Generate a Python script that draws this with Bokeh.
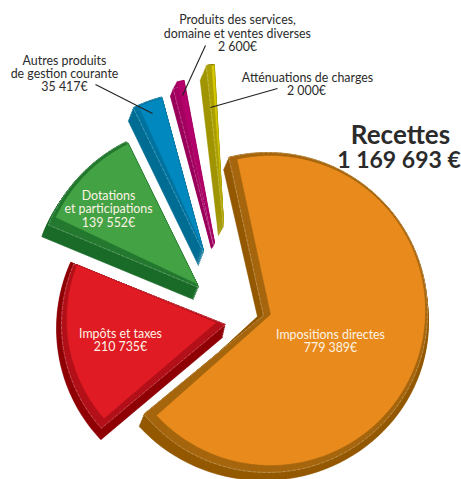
import numpy as np
from bokeh.plotting import figure
from bokeh.models import Range1d
from bokeh.core.properties import value
from bokeh.embed import file_html
from bokeh.resources import INLINE

# ---- data
categories = ["Impositions directes", "Impôts et taxes", "Dotations et participations",
              "Autres produits de gestion courante",
              "Produits des services, domaine et ventes diverses", "Atténuations de charges"]
amounts = [779389, 210735, 139552, 35417, 2600, 2000]
amount_labels = ["779 389€", "210 735€", "139 552€", "35 417€", "2 600€", "2 000€"]
title_lines = ["Recettes", "1 169 693 €"]

# ---- styles
top_col = ["#e98b1c", "#e01b24", "#43a244", "#0088bf", "#b3006a", "#d6c900"]
mid_col = ["#a6660e", "#b3111a", "#24792f", "#00739f", "#a50061", "#ab9f00"]
low_col = ["#945900", "#8f0005", "#1a6b28", "#006d94", "#98005a", "#a09500"]
FONT = "Lato"
START_ANGLE = 102.5

# ---- layout of the exploded pseudo-3D slices: apex x, y, rim centre x, y, rx, ry, pad hi, pad lo
layers = [
    [(270, 314, 270, 310, 155, 155, 0, 0), (263, 315, 267, 312, 160, 160, 1.5, -3.2), (257, 316, 263, 322, 165, 158, 1.5, -1.6)],
    [(216, 322, 216, 319, 150, 150, -1.2, 0.8), (225, 324, 216, 324, 155, 155, -0.6, -0.7), (222, 337, 214, 328, 158, 160, 1.4, -2.2)],
    [(197, 284, 197, 284, 157, 157, -3, 1.3), (198, 287, 196, 285, 160, 160, 0, 1.3), (193, 299, 193, 293, 162, 162, 1.7, 1)],
    [(203, 250, 203, 250, 158, 158, -0.6, 1.3), (203, 252, 203, 252, 161, 161, 1.1, 1.2), (198, 265, 198, 265, 161, 161, 1.1, 1.2)],
    [(214, 242, 214, 242, 165, 165, -0.8, -2.5), (213, 245, 213, 245, 162, 162, 0.5, -1), (211, 248, 211, 248, 158, 158, 1.2, 0)],
    [(223, 223, 223, 223, 159, 159, -8.7, -9.2), (223, 226, 223, 226, 162, 162, -7, -8.9), (218, 235, 218, 235, 157, 157, -6.4, -8.4)],
]

shares = np.array(amounts) / sum(amounts) * 360.0
hi_angles = START_ANGLE - np.concatenate([[0], np.cumsum(shares)[:-1]])
lo_angles = hi_angles - shares


def ring(spec, hi, lo):
    ax, ay, cx, cy, rx, ry, phi, plo = spec
    t = np.radians(np.linspace(hi + phi, lo + plo, 90))
    return np.r_[ax, cx + rx * np.cos(t)], np.r_[ay, cy - ry * np.sin(t)]


p = figure(width=461, height=479, output_backend="svg", toolbar_location=None,
           x_range=Range1d(0, 461), y_range=Range1d(479, 0),
           min_border=0, outline_line_color=None, background_fill_color="white")
p.axis.visible = False
p.grid.visible = False

for i in range(len(amounts) - 1, -1, -1):
    rings = [ring(s, hi_angles[i], lo_angles[i]) for s in layers[i]]
    top, mid, low = rings
    for (a, b, col) in ((mid, low, low_col[i]), (top, mid, mid_col[i])):
        xs, ys = [], []
        for f in np.linspace(1, 0, 9):
            xs.append((a[0] * (1 - f) + b[0] * f).tolist())
            ys.append((a[1] * (1 - f) + b[1] * f).tolist())
        p.patches(xs, ys, fill_color=col, line_color=col, line_width=0.6)
    p.line(np.r_[mid[0], mid[0][0]], np.r_[mid[1], mid[1][0]], line_color="white", line_alpha=0.45,
           line_width=0.6, line_dash="4 1")
    p.patch(top[0], top[1], fill_color=top_col[i], line_color=mid_col[i], line_width=0.5)

# ---- leader lines
leader_x = [[95, 152], [205, 182], [277, 210]]
leader_y = [[84, 113], [45, 95], [88, 107]]
p.multi_line(leader_x, leader_y, line_color="#222222", line_width=1.1)

# ---- labels
dark_x = [64, 64, 64, 237, 237, 237, 307, 306]
dark_y = [59.5, 72.5, 86, 19, 32.5, 46, 77, 89.5]
dark_t = ["Autres produits", "de gestion courante", amount_labels[3],
          "Produits des services,", "domaine et ventes diverses", amount_labels[4],
          "Atténuations de charges", amount_labels[5]]
p.text(dark_x, dark_y, text=dark_t, text_align="center", text_baseline="middle",
       text_font=value(FONT), text_font_size="12.4px", text_color="#2b2b2b")

light_x = [330, 330, 120, 120, 108, 108, 108]
light_y = [334, 347, 333, 346, 195, 208, 222]
light_t = ["Impositions directes", amount_labels[0], "Impôts et taxes", amount_labels[1],
           "Dotations", "et participations", amount_labels[2]]
p.text(light_x, light_y, text=light_t, text_align="center", text_baseline="middle",
       text_font=value(FONT), text_font_size="12.4px", text_color="#fdf3e6")

p.text([400], [133], text=title_lines[:1], text_align="center", text_baseline="middle",
       text_font=value(FONT), text_font_size="26px", text_font_style="bold", text_color="#2b2b2b")
p.text([398.5], [158], text=title_lines[1:], text_align="center", text_baseline="middle",
       text_font=value(FONT), text_font_size="23px", text_font_style="bold", text_color="#2b2b2b")

open("out.html", "w").write(file_html(p, INLINE))
